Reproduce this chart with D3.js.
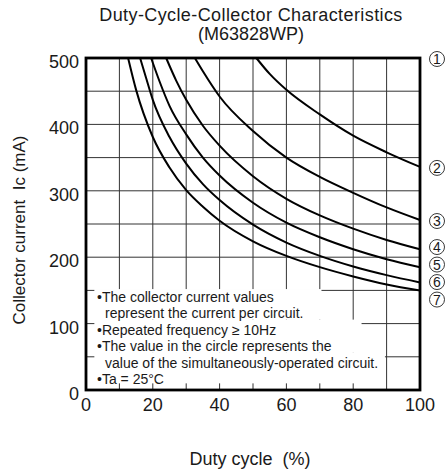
<!DOCTYPE html>
<html>
<head>
<meta charset="utf-8">
<script src="https://cdn.jsdelivr.net/npm/d3@7"></script>
<style>
  body { margin: 0; background: #fff; }
  svg { display: block; font-family: "Liberation Sans", Arial, Helvetica, sans-serif; }
  .grid line { stroke: #333; stroke-width: 1; }
  .curve { fill: none; stroke: #000; stroke-width: 2; }
  .frame { fill: none; stroke: #000; stroke-width: 2.8; }
  .tick { font-size: 18px; fill: #1a1a1a; }
  .note { font-size: 14px; fill: #1a1a1a; }
  .ttl { font-size: 18px; fill: #1a1a1a; white-space: pre; }
  .num circle { fill: #fff; stroke: #222; stroke-width: 0.9; }
  .num text { font-size: 14px; fill: #1a1a1a; }
</style>
</head>
<body>
<div class="canvas"></div>
<script>
// values: [duty %, Ic mA]
var curve1 = [[0, 500], [100, 500]];
var curve2 = [[51, 500], [55, 476], [60, 452], [70, 415], [80, 383], [90, 358], [100, 336]];
var curve3 = [[32.6, 500], [35, 480], [40, 442], [50, 390], [60, 350], [70, 321], [80, 297], [90, 275], [100, 256]];
var curve4 = [[24, 500], [27, 466], [30, 437], [35, 398], [40, 368], [50, 322], [60, 288], [70, 263], [80, 243], [90, 226], [100, 212]];
var curve5 = [[19.5, 500], [22, 465], [25, 428], [30, 385], [35, 350], [40, 323], [50, 282], [60, 252], [70, 230], [80, 212], [90, 197], [100, 185]];
var curve6 = [[16.2, 500], [18, 470], [20, 437], [25, 381], [30, 341], [35, 310], [40, 286], [50, 249], [60, 222], [70, 202], [80, 186], [90, 173], [100, 162]];
var curve7 = [[12.6, 500], [15, 452], [20, 381], [25, 335], [30, 301], [35, 276], [40, 255], [50, 224], [60, 202], [70, 185], [80, 171], [90, 159], [100, 150]];

var curveLabels = ['1', '2', '3', '4', '5', '6', '7'];
var xTicks = [0, 20, 40, 60, 80, 100];
var yTicks = [0, 100, 200, 300, 400, 500];
var xGrid = [10, 20, 30, 40, 50, 60, 70, 80, 90];
var yGrid = [50, 100, 150, 200, 250, 300, 350, 400, 450];

var titleLines = ['Duty-Cycle-Collector Characteristics', '(M63828WP)'];
var xTitle = 'Duty cycle  (%)';
var yTitle = 'Collector current  Ic (mA)';
// [text, is bullet line]
var notes = [
	['\u2022The collector current values', true],
	['represent the current per circuit.', false],
	['\u2022Repeated frequency \u2265 10Hz', true],
	['\u2022The value in the circle represents the', true],
	['value of the simultaneously-operated circuit.', false],
	['\u2022Ta = 25\u00b0C', true]
];
// white areas behind the notes: [duty from, duty to, Ic top, Ic bottom]
var noteMask = [[2.5, 70.5, 152, 106], [2.5, 82.5, 106, 57], [2.5, 89.5, 57, 10]];

var width = 448, height = 472;
var svg = d3.select('.canvas').append('svg')
	.attr('width', width).attr('height', height);

var x = d3.scaleLinear().domain([0, 100]).range([86, 420]);
var y = d3.scaleLinear().domain([0, 500]).range([390, 58]);

// grid
var grid = svg.append('g').classed('grid', true);
grid.selectAll('line.v').data(xGrid).enter().append('line')
	.attr('x1', d => x(d)).attr('x2', d => x(d))
	.attr('y1', y(0)).attr('y2', y(500));
grid.selectAll('line.h').data(yGrid).enter().append('line')
	.attr('x1', x(0)).attr('x2', x(100))
	.attr('y1', d => y(d)).attr('y2', d => y(d));

// white patch for the notes
svg.append('g').selectAll('rect').data(noteMask).enter().append('rect')
	.attr('x', d => x(d[0])).attr('width', d => x(d[1]) - x(d[0]))
	.attr('y', d => y(d[2])).attr('height', d => y(d[3]) - y(d[2]))
	.attr('fill', '#fff');

// curves
var curves = [curve1, curve2, curve3, curve4, curve5, curve6, curve7];
var line = d3.line()
	.x(d => x(d[0])).y(d => y(d[1]))
	.curve(d3.curveMonotoneX);
svg.append('g').selectAll('path').data(curves).enter().append('path')
	.classed('curve', true)
	.attr('d', line);

// frame
svg.append('rect').classed('frame', true)
	.attr('x', x(0)).attr('y', y(500))
	.attr('width', x(100) - x(0)).attr('height', y(0) - y(500));

// tick labels
svg.append('g').selectAll('text').data(yTicks).enter().append('text')
	.classed('tick', true)
	.attr('x', x(0) - 7).attr('y', d => y(d) + 10)
	.attr('text-anchor', 'end')
	.text(d => d);
svg.append('g').selectAll('text').data(xTicks).enter().append('text')
	.classed('tick', true)
	.attr('x', d => x(d)).attr('y', y(0) + 21)
	.attr('text-anchor', 'middle')
	.text(d => d);

// titles
svg.append('g').selectAll('text').data(titleLines).enter().append('text')
	.classed('ttl', true)
	.attr('x', 251).attr('y', (d, i) => 21 + i * 19)
	.attr('text-anchor', 'middle')
	.style('letter-spacing', (d, i) => i == 0 ? '0.4px' : '0px')
	.text(d => d);
svg.append('text').classed('ttl', true)
	.attr('x', 250).attr('y', 465)
	.attr('text-anchor', 'middle')
	.text(xTitle);
svg.append('text').classed('ttl', true)
	.attr('transform', 'translate(25,230) rotate(-90)')
	.attr('text-anchor', 'middle')
	.style('font-size', '17px')
	.text(yTitle);

// notes
svg.append('g').selectAll('text').data(notes).enter().append('text')
	.classed('note', true)
	.attr('x', d => d[1] ? 97 : 105).attr('y', (d, i) => 301.5 + i * 16.5)
	.text(d => d[0]);

// circled labels at the end of each curve, spread so they don't collide
var labelPos = curves.map(c => y(c[c.length - 1][1]));
var gap = 17.5;
for (var k = 0; k < 60; k++) {
	for (var i = 1; i < labelPos.length; i++) {
		var over = gap - (labelPos[i] - labelPos[i - 1]);
		if (over > 0) {
			labelPos[i - 1] -= over / 2;
			labelPos[i] += over / 2;
		}
	}
}
var marks = svg.append('g').selectAll('g.num').data(curveLabels).enter().append('g')
	.classed('num', true)
	.attr('transform', (d, i) => 'translate(437,' + (labelPos[i] + 1) + ')');
marks.append('circle').attr('r', 7.5);
marks.append('text')
	.attr('text-anchor', 'middle')
	.attr('y', 5)
	.text(d => d);
</script>
</body>
</html>
